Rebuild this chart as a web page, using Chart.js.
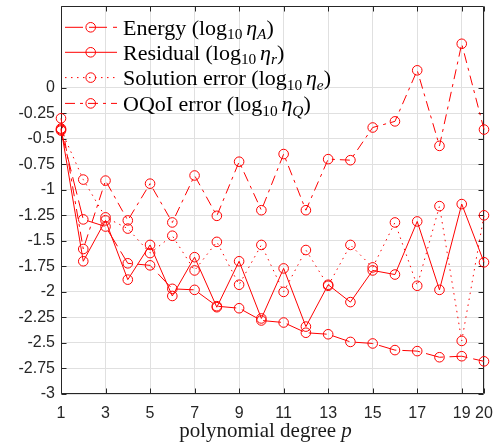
<!DOCTYPE html>
<html>
<head>
<meta charset="utf-8">
<script src="https://cdn.jsdelivr.net/npm/chart.js@4/dist/chart.umd.min.js"></script>
<style>
  html, body { margin: 0; padding: 0; background: #ffffff; }
  canvas { display: block; }
</style>
</head>
<body>
<canvas id="chart" width="493" height="443"></canvas>
<script>
// Polynomial degree p on the x axis
const degrees = [1, 2, 3, 4, 5, 6, 7, 8, 9, 10, 11, 12, 13, 14, 15, 16, 17, 18, 19, 20];

// log10 of each estimator / error
const energy        = [-0.42, -1.29, -1.36, -1.72, -1.74, -1.97, -1.98, -2.14, -2.16, -2.28, -2.30, -2.40, -2.415, -2.49, -2.505, -2.57, -2.58, -2.64, -2.63, -2.68];
const residual      = [-0.40, -1.70, -1.30, -1.88, -1.54, -2.04, -1.66, -2.15, -1.70, -2.26, -1.77, -2.34, -1.93, -2.10, -1.79, -1.83, -1.31, -1.98, -1.14, -1.71];
const solutionError = [-0.41, -0.90, -1.27, -1.38, -1.62, -1.45, -1.79, -1.51, -1.93, -1.54, -2.00, -1.59, -1.94, -1.54, -1.76, -1.32, -1.94, -1.16, -2.48, -1.25];
const oqoiError     = [-0.30, -1.58, -0.91, -1.30, -0.94, -1.32, -0.86, -1.255, -0.725, -1.20, -0.65, -1.20, -0.70, -0.71, -0.39, -0.33, 0.17, -0.57, 0.43, -0.41];

// Series names and the subscript of each estimator symbol
const seriesNames = ['Energy', 'Residual', 'Solution error', 'OQoI error'];
const etaSubscripts = ['A', 'r', 'e', 'Q'];

// Axis ticks
const xTickValues = [1, 3, 5, 7, 9, 11, 13, 15, 17, 19, 20];
const yTickValues = [0, -0.25, -0.5, -0.75, -1, -1.25, -1.5, -1.75, -2, -2.25, -2.5, -2.75, -3];
const yTickLabels = ['0', '-0.25', '-0.5', '-0.75', '-1', '-1.25', '-1.5', '-1.75', '-2', '-2.25', '-2.5', '-2.75', '-3'];
const xTitle = 'polynomial degree ';
const xTitleSymbol = 'p';

const RED = '#ff0000';
const AXIS_COLOR = '#262626';
const GRID_COLOR = '#e0e0e0';
const lineDashes = [[18, 6], [], [1.5, 4.5], [10, 5, 3, 5]];
const seriesValues = [energy, residual, solutionError, oqoiError];

function makeDataset(values, i) {
  return {
    label: seriesNames[i],
    data: values.map((v, k) => ({ x: degrees[k], y: v })),
    borderColor: RED,
    borderWidth: 1,
    borderDash: lineDashes[i],
    pointStyle: 'circle',
    pointRadius: 4.8,
    pointBorderWidth: 1,
    pointBorderColor: RED,
    pointBackgroundColor: 'rgba(0,0,0,0)',
    tension: 0,
    fill: false,
    clip: false
  };
}

// Draws a run of text pieces (normal / italic / subscript) starting at x
function drawRich(ctx, parts, x, y, size) {
  for (const p of parts) {
    if (p.gap) { x += p.gap * size; continue; }
    const fs = p.sub ? size * 0.7 : size;
    ctx.font = (p.it ? 'italic ' : '') + fs + 'px "Liberation Serif", "Times New Roman", serif';
    ctx.fillText(p.t, x, y + (p.sub ? size * 0.22 : 0));
    x += ctx.measureText(p.t).width;
  }
  return x;
}
function richWidth(ctx, parts, size) {
  let w = 0;
  for (const p of parts) {
    if (p.gap) { w += p.gap * size; continue; }
    const fs = p.sub ? size * 0.7 : size;
    ctx.font = (p.it ? 'italic ' : '') + fs + 'px "Liberation Serif", "Times New Roman", serif';
    w += ctx.measureText(p.t).width;
  }
  return w;
}

// Box, inward tick marks on all four sides
const axesBox = {
  id: 'axesBox',
  beforeDatasetsDraw(chart) {
    const { ctx, chartArea: a, scales } = chart;
    const L = Math.round(a.left) + 0.5, R = Math.round(a.right) - 0.5;
    const T = Math.round(a.top) + 0.5, B = Math.round(a.bottom) - 0.5;
    ctx.save();
    ctx.strokeStyle = AXIS_COLOR;
    ctx.lineWidth = 1;
    ctx.beginPath();
    ctx.rect(L, T, R - L, B - T);
    const tl = 5;
    for (const v of xTickValues) {
      const x = Math.round(scales.x.getPixelForValue(v)) + 0.5;
      ctx.moveTo(x, B); ctx.lineTo(x, B - tl);
      ctx.moveTo(x, T); ctx.lineTo(x, T + tl);
    }
    for (const v of yTickValues) {
      const y = Math.round(scales.y.getPixelForValue(v)) + 0.5;
      ctx.moveTo(L, y); ctx.lineTo(L + tl, y);
      ctx.moveTo(R, y); ctx.lineTo(R - tl, y);
    }
    ctx.stroke();
    ctx.restore();
  }
};

// Legend with line samples and math-style labels, plus the x-axis title
const legendAndTitle = {
  id: 'legendAndTitle',
  afterDraw(chart) {
    const { ctx, chartArea: a } = chart;
    const size = 22;
    const rows = [27.3, 52.3, 77.6, 103.4];
    ctx.save();
    seriesNames.forEach((name, i) => {
      const y = rows[i];
      ctx.strokeStyle = RED;
      ctx.lineWidth = 1;
      ctx.setLineDash(lineDashes[i]);
      ctx.beginPath();
      ctx.moveTo(65, y); ctx.lineTo(117, y);
      ctx.stroke();
      ctx.setLineDash([]);
      ctx.beginPath();
      ctx.arc(90.7, y, 4.8, 0, Math.PI * 2);
      ctx.stroke();
      ctx.fillStyle = '#000000';
      ctx.textBaseline = 'alphabetic';
      ctx.textAlign = 'left';
      const parts = [
        { t: name + ' (log' }, { t: '10', sub: true }, { gap: 0.17 },
        { t: 'η', it: true }, { t: etaSubscripts[i], it: true, sub: true }, { t: ')' }
      ];
      drawRich(ctx, parts, 123, y + 7.3, size);
    });
    // x-axis title, centred slightly left of the plot middle
    const tSize = 21;
    const tParts = [{ t: xTitle }, { t: xTitleSymbol, it: true }];
    const w = richWidth(ctx, tParts, tSize);
    ctx.fillStyle = '#1a1a1a';
    drawRich(ctx, tParts, (a.left + a.right) / 2 - 7 - w / 2, 437, tSize);
    ctx.restore();
  }
};

new Chart(document.getElementById('chart'), {
  type: 'line',
  data: { datasets: seriesValues.map(makeDataset) },
  options: {
    responsive: false,
    devicePixelRatio: 1,
    animation: false,
    layout: { autoPadding: false, padding: { top: 6, right: 9, left: 0, bottom: 0 } },
    plugins: { legend: { display: false }, tooltip: { enabled: false }, title: { display: false } },
    scales: {
      x: {
        type: 'linear',
        min: 1, max: 20,
        afterBuildTicks: (s) => { s.ticks = xTickValues.map(v => ({ value: v })); },
        afterFit: (s) => { s.height = 49; s.paddingLeft = 0; s.paddingRight = 0; },
        grid: { color: GRID_COLOR, drawTicks: false },
        border: { display: false },
        ticks: {
          autoSkip: false, maxRotation: 0, padding: 10,
          color: AXIS_COLOR,
          font: { family: '"Liberation Sans", Arial, sans-serif', size: 16 },
          callback: (v) => String(v)
        }
      },
      y: {
        type: 'linear',
        min: -3, max: 0.8,
        afterBuildTicks: (s) => { s.ticks = yTickValues.map(v => ({ value: v })); },
        afterFit: (s) => { s.width = 61; s.paddingTop = 0; s.paddingBottom = 0; },
        grid: { color: GRID_COLOR, drawTicks: false },
        border: { display: false },
        ticks: {
          autoSkip: false, padding: 6,
          color: AXIS_COLOR,
          font: { family: '"Liberation Sans", Arial, sans-serif', size: 16 },
          callback: (v) => { const k = yTickValues.indexOf(v); return k >= 0 ? yTickLabels[k] : ''; }
        }
      }
    }
  },
  plugins: [axesBox, legendAndTitle]
});
</script>
</body>
</html>
